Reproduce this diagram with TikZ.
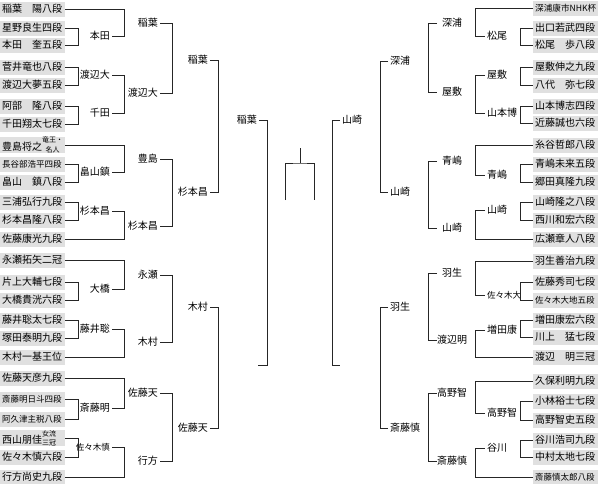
\documentclass[tikz,border=0pt]{standalone}
\usepackage{fontspec}
\setmainfont{Noto Sans CJK JP}
\usepackage{xcolor}
\usepackage{tikz}
\definecolor{boxgray}{RGB}{224,224,224}
\newcommand{\twoline}[2]{\raisebox{-1.6pt}{\fontsize{7}{6.8}\selectfont\shortstack{#1\\#2}}}

\begin{document}
\begin{tikzpicture}[
    x=1pt, y=-1pt,
    player/.style={rectangle, fill=boxgray, text width=61pt, inner xsep=2pt, inner ysep=0pt, minimum height=15pt, align=left, anchor=west, font=\fontsize{10}{12}\selectfont},
    small/.style={font=\fontsize{8.5}{10}\selectfont},
    lwin/.style={anchor=east, inner sep=2pt, font=\fontsize{10}{12}\selectfont},
    rwin/.style={anchor=west, inner sep=2pt, font=\fontsize{10}{12}\selectfont},
    rcell/.style={anchor=west, inner sep=0pt, minimum width=30pt, font=\fontsize{10}{12}\selectfont},
    bline/.style={line width=0.9pt, black!85}
]
\useasboundingbox (0,0) rectangle (599,483);

\coordinate (colLA) at (78,0);
\coordinate (colLB) at (124,0);
\coordinate (colLC) at (172,0);
\coordinate (colLD) at (218,0);
\coordinate (colLE) at (267,0);
\coordinate (colRA) at (520,0);
\coordinate (colRB) at (475,0);
\coordinate (colRC) at (428,0);
\coordinate (colRD) at (380,0);
\coordinate (colRE) at (332,0);

% left players
\node[player] (lp1) at (0,9) {稲葉　陽八段};
\node[player] (lp2) at (0,28) {星野良生四段};
\node[player] (lp3) at (0,45) {本田　奎五段};
\node[player] (lp4) at (0,67) {菅井竜也八段};
\node[player] (lp5) at (0,85) {渡辺大夢五段};
\node[player] (lp6) at (0,106) {阿部　隆八段};
\node[player] (lp7) at (0,124) {千田翔太七段};
\node[player] (lp8) at (0,145) {豊島将之\twoline{竜王・}{名人}};
\node[player, small] (lp9) at (0,164) {長谷部浩平四段};
\node[player] (lp10) at (0,182) {畠山　鎮八段};
\node[player] (lp11) at (0,202) {三浦弘行九段};
\node[player] (lp12) at (0,220) {杉本昌隆八段};
\node[player] (lp13) at (0,239) {佐藤康光九段};
\node[player] (lp14) at (0,260) {永瀬拓矢二冠};
\node[player] (lp15) at (0,282) {片上大輔七段};
\node[player] (lp16) at (0,300) {大橋貴洸六段};
\node[player] (lp17) at (0,320) {藤井聡太七段};
\node[player] (lp18) at (0,338) {塚田泰明九段};
\node[player] (lp19) at (0,357) {木村一基王位};
\node[player] (lp20) at (0,378) {佐藤天彦九段};
\node[player, small] (lp21) at (0,399) {斎藤明日斗四段};
\node[player, small] (lp22) at (0,419) {阿久津主税八段};
\node[player] (lp23) at (0,438) {西山朋佳\twoline{女流}{三冠}};
\node[player] (lp24) at (0,457) {佐々木慎六段};
\node[player] (lp25) at (0,477) {行方尚史九段};

% right players
\node[player, font=\fontsize{8.6}{10}\selectfont] (rp1) at (533,8) {深浦康市NHK杯};
\node[player] (rp2) at (533,28) {出口若武四段};
\node[player] (rp3) at (533,45) {松尾　歩八段};
\node[player] (rp4) at (533,67) {屋敷伸之九段};
\node[player] (rp5) at (533,85) {八代　弥七段};
\node[player] (rp6) at (533,106) {山本博志四段};
\node[player] (rp7) at (533,123) {近藤誠也六段};
\node[player] (rp8) at (533,145) {糸谷哲郎八段};
\node[player] (rp9) at (533,164) {青嶋未来五段};
\node[player] (rp10) at (533,182) {郷田真隆九段};
\node[player] (rp11) at (533,202) {山崎隆之八段};
\node[player] (rp12) at (533,220) {西川和宏六段};
\node[player] (rp13) at (533,239) {広瀬章人八段};
\node[player] (rp14) at (533,261) {羽生善治九段};
\node[player] (rp15) at (533,282) {佐藤秀司七段};
\node[player, small] (rp16) at (533,300) {佐々木大地五段};
\node[player] (rp17) at (533,320) {増田康宏六段};
\node[player] (rp18) at (533,337) {川上　猛七段};
\node[player] (rp19) at (533,357) {渡辺　明三冠};
\node[player] (rp20) at (533,381) {久保利明九段};
\node[player] (rp21) at (533,401) {小林裕士七段};
\node[player] (rp22) at (533,420) {高野智史五段};
\node[player] (rp23) at (533,440) {谷川浩司九段};
\node[player] (rp24) at (533,457) {中村太地七段};
\node[player, small] (rp25) at (533,477) {斎藤慎太郎八段};

% left winners
\node[lwin] (lw1) at (112,36) {本田};
\node[lwin] (lw2) at (112,75) {渡辺大};
\node[lwin] (lw3) at (112,113) {千田};
\node[lwin] (lw4) at (112,172) {畠山鎮};
\node[lwin] (lw5) at (112,211) {杉本昌};
\node[lwin] (lw6) at (112,289) {大橋};
\node[lwin] (lw7) at (112,329) {藤井聡};
\node[lwin] (lw8) at (112,408) {斎藤明};
\node[lwin, small] (lw9) at (112,447) {佐々木慎};

\node[lwin] (lv1) at (160,23) {稲葉};
\node[lwin] (lv2) at (160,93) {渡辺大};
\node[lwin] (lv3) at (160,159) {豊島};
\node[lwin] (lv4) at (160,226) {杉本昌};
\node[lwin] (lv5) at (160,275) {永瀬};
\node[lwin] (lv6) at (160,342) {木村};
\node[lwin] (lv7) at (160,393) {佐藤天};
\node[lwin] (lv8) at (160,461) {行方};

\node[lwin] (lu1) at (210,60) {稲葉};
\node[lwin] (lu2) at (210,192) {杉本昌};
\node[lwin] (lu3) at (210,307) {木村};
\node[lwin] (lu4) at (210,428) {佐藤天};

\node[lwin] (lt1) at (259,120) {稲葉};
\coordinate (lt2) at (258,365);

% right winners
\node[rwin] (rw1) at (485,36) {松尾};
\node[rwin] (rw2) at (485,75) {屋敷};
\node[rwin] (rw3) at (485,113) {山本博};
\node[rwin] (rw4) at (485,175) {青嶋};
\node[rwin] (rw5) at (485,210) {山崎};
\node[rwin, small] (rw6) at (485,295) {佐々木大};
\node[rwin] (rw7) at (485,330) {増田康};
\node[rwin] (rw8) at (485,413) {高野智};
\node[rwin] (rw9) at (485,448) {谷川};

\node[rcell] (rv1) at (437,23) {深浦};
\node[rcell] (rv2) at (437,92) {屋敷};
\node[rcell] (rv3) at (437,161) {青嶋};
\node[rcell] (rv4) at (437,228) {山崎};
\node[rcell] (rv5) at (437,273) {羽生};
\node[rcell] (rv6) at (437,340) {渡辺明};
\node[rcell] (rv7) at (437,393) {高野智};
\node[rcell] (rv8) at (437,461) {斎藤慎};

\node[rwin] (ru1) at (388,61) {深浦};
\node[rwin] (ru2) at (388,192) {山崎};
\node[rwin] (ru3) at (388,307) {羽生};
\node[rwin] (ru4) at (388,428) {斎藤慎};

\node[rwin] (rt1) at (340,120) {山崎};
\coordinate (rt2) at (340,365);

% left brackets
\draw[bline] (lp2.east) -| (colLA |- lp3.east) -- (lp3.east);
\draw[bline] (lp4.east) -| (colLA |- lp5.east) -- (lp5.east);
\draw[bline] (lp6.east) -| (colLA |- lp7.east) -- (lp7.east);
\draw[bline] (lp9.east) -| (colLA |- lp10.east) -- (lp10.east);
\draw[bline] (lp11.east) -| (colLA |- lp12.east) -- (lp12.east);
\draw[bline] (lp15.east) -| (colLA |- lp16.east) -- (lp16.east);
\draw[bline] (lp17.east) -| (colLA |- lp18.east) -- (lp18.east);
\draw[bline] (lp21.east) -| (colLA |- lp22.east) -- (lp22.east);
\draw[bline] (lp23.east) -| (colLA |- lp24.east) -- (lp24.east);

\draw[bline] (lp1.east) -| (colLB |- lw1.east) -- (lw1.east);
\draw[bline] (lw2.east) -| (colLB |- lw3.east) -- (lw3.east);
\draw[bline] (lp8.east) -| (colLB |- lw4.east) -- (lw4.east);
\draw[bline] (lw5.east) -| (colLB |- lp13.east) -- (lp13.east);
\draw[bline] (lp14.east) -| (colLB |- lw6.east) -- (lw6.east);
\draw[bline] (lw7.east) -| (colLB |- lp19.east) -- (lp19.east);
\draw[bline] (lp20.east) -| (colLB |- lw8.east) -- (lw8.east);
\draw[bline] (lw9.east) -| (colLB |- lp25.east) -- (lp25.east);

\draw[bline] (lv1.east) -| (colLC |- lv2.east) -- (lv2.east);
\draw[bline] (lv3.east) -| (colLC |- lv4.east) -- (lv4.east);
\draw[bline] (lv5.east) -| (colLC |- lv6.east) -- (lv6.east);
\draw[bline] (lv7.east) -| (colLC |- lv8.east) -- (lv8.east);

\draw[bline] (lu1.east) -| (colLD |- lu2.east) -- (lu2.east);
\draw[bline] (lu3.east) -| (colLD |- lu4.east) -- (lu4.east);

\draw[bline] (lt1.east) -| (colLE |- lt2) -- (lt2);

% right brackets
\draw[bline] (rp2.west) -| (colRA |- rp3.west) -- (rp3.west);
\draw[bline] (rp4.west) -| (colRA |- rp5.west) -- (rp5.west);
\draw[bline] (rp6.west) -| (colRA |- rp7.west) -- (rp7.west);
\draw[bline] (rp9.west) -| (colRA |- rp10.west) -- (rp10.west);
\draw[bline] (rp11.west) -| (colRA |- rp12.west) -- (rp12.west);
\draw[bline] (rp15.west) -| (colRA |- rp16.west) -- (rp16.west);
\draw[bline] (rp17.west) -| (colRA |- rp18.west) -- (rp18.west);
\draw[bline] (rp21.west) -| (colRA |- rp22.west) -- (rp22.west);
\draw[bline] (rp23.west) -| (colRA |- rp24.west) -- (rp24.west);

\draw[bline] (rp1.west) -| (colRB |- rw1.west) -- (rw1.west);
\draw[bline] (rw2.west) -| (colRB |- rw3.west) -- (rw3.west);
\draw[bline] (rp8.west) -| (colRB |- rw4.west) -- (rw4.west);
\draw[bline] (rw5.west) -| (colRB |- rp13.west) -- (rp13.west);
\draw[bline] (rp14.west) -| (colRB |- rw6.west) -- (rw6.west);
\draw[bline] (rw7.west) -| (colRB |- rp19.west) -- (rp19.west);
\draw[bline] (rp20.west) -| (colRB |- rw8.west) -- (rw8.west);
\draw[bline] (rw9.west) -| (colRB |- rp25.west) -- (rp25.west);

\draw[bline] (rv1.west) -| (colRC |- rv2.west) -- (rv2.west);
\draw[bline] (rv3.west) -| (colRC |- rv4.west) -- (rv4.west);
\draw[bline] (rv5.west) -| (colRC |- rv6.west) -- (rv6.west);
\draw[bline] (rv7.west) -| (colRC |- rv8.west) -- (rv8.west);

\draw[bline] (ru1.west) -| (colRD |- ru2.west) -- (ru2.west);
\draw[bline] (ru3.west) -| (colRD |- ru4.west) -- (ru4.west);

\draw[bline] (rt1.west) -| (colRE |- rt2) -- (rt2);

% final
\coordinate (fl) at (285,200);
\coordinate (fr) at (314,200);
\coordinate (fm) at (300,163);
\coordinate (ftop) at (300,148);
\draw[bline] (fl) |- (fm) -| (fr);
\draw[bline] (fm) -- (ftop);

\end{tikzpicture}
\end{document}
